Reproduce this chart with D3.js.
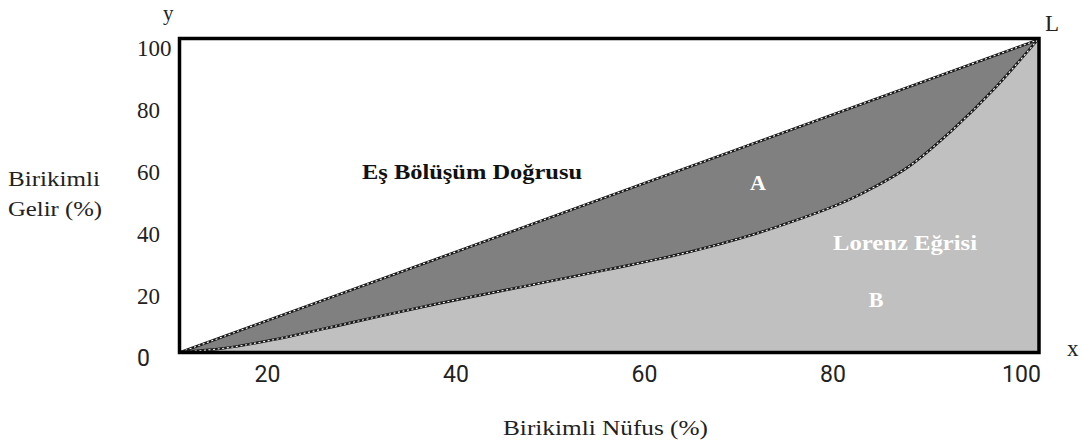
<!DOCTYPE html>
<html>
<head>
<meta charset="utf-8">
<script src="https://cdn.jsdelivr.net/npm/d3@7"></script>
<style>
  html, body { margin: 0; padding: 0; background: #fff; }
  svg { display: block; }
</style>
</head>
<body>
<svg id="chart" width="1081" height="448"></svg>
<script>
// ---- data ----
const popShare    = [0, 5, 10, 20, 30, 40, 50, 60, 70, 80, 85, 90, 95, 100];
const incomeShare = [0, 1.2, 3.5, 9.5, 15.5, 21, 26.5, 32.5, 40.5, 51.5, 59.5, 71, 84.5, 100];
const equalX = [0, 100];
const equalY = [0, 100];
const xTicks = [20, 40, 60, 80, 100];
const yTicks = [0, 20, 40, 60, 80, 100];

const SERIF = '"Liberation Serif", "Times New Roman", serif';
const SANS = 'Roboto, "Liberation Sans", sans-serif';

const svg = d3.select("#chart");

// plot scales
const x = d3.scaleLinear().domain([0, 100]).range([181, 1037.5]);
const y = d3.scaleLinear().domain([0, 100]).range([352, 40]);
// tick label scales (labels sit slightly off the frame in the original)
const xLab = d3.scaleLinear().domain([20, 100]).range([267, 1021]);
const yLab = d3.scaleLinear().domain([0, 100]).range([357, 47]);

const lorenz = popShare.map((p, i) => [p, incomeShare[i]]);
const equality = equalX.map((p, i) => [p, equalY[i]]);

// area under equality line (dark)
const areaEq = d3.area().x(d => x(d[0])).y0(y(0)).y1(d => y(d[1]));
svg.append("path").datum(equality).attr("d", areaEq).attr("fill", "#808080");

// area under Lorenz curve (light)
const areaL = d3.area().x(d => x(d[0])).y0(y(0)).y1(d => y(d[1])).curve(d3.curveMonotoneX);
svg.append("path").datum(lorenz).attr("d", areaL).attr("fill", "#c0c0c0");

// lines: dark stroke + white dashes
const lineEq = d3.line().x(d => x(d[0])).y(d => y(d[1]));
const lineL = d3.line().x(d => x(d[0])).y(d => y(d[1])).curve(d3.curveMonotoneX);
[[equality, lineEq], [lorenz, lineL]].forEach(([data, gen]) => {
  svg.append("path").datum(data).attr("d", gen)
    .attr("fill", "none").attr("stroke", "#1a1a1a").attr("stroke-width", 2.6);
  svg.append("path").datum(data).attr("d", gen)
    .attr("fill", "none").attr("stroke", "#ffffff").attr("stroke-width", 1.1)
    .attr("stroke-dasharray", "2,2.6");
});

// frame
svg.append("rect")
  .attr("x", 179.5).attr("y", 38.5)
  .attr("width", 859.5).attr("height", 314)
  .attr("fill", "none").attr("stroke", "#000").attr("stroke-width", 3.5);

// x tick labels
const gx = svg.append("g").attr("transform", "translate(0,382)")
  .call(d3.axisBottom(xLab).tickValues(xTicks).tickSize(0).tickFormat(d3.format("d")));
gx.select(".domain").remove();
gx.selectAll("text")
  .attr("y", 0).attr("dy", 0)
  .style("font-family", SANS)
  .style("font-size", "23px").attr("fill", "#222");

// y tick labels
const gy = svg.append("g").attr("transform", "translate(137,0)")
  .call(d3.axisLeft(yLab).tickValues(yTicks).tickSize(0).tickFormat(d3.format("d")));
gy.select(".domain").remove();
gy.selectAll("text")
  .attr("x", 0).attr("dy", "0.35em")
  .attr("text-anchor", "start")
  .style("font-family", d => d === 0 ? SANS : SERIF)
  .style("font-size", "23px").attr("fill", "#222");

// axis letters
function label(txt, xx, yy, size, opts = {}) {
  const t = svg.append("text").attr("x", xx).attr("y", yy)
    .style("font-family", SERIF).style("font-size", size + "px")
    .attr("fill", opts.fill || "#222").text(txt);
  if (opts.bold) t.style("font-weight", "bold");
  if (opts.anchor) t.attr("text-anchor", opts.anchor);
  if (opts.len) t.attr("textLength", opts.len).attr("lengthAdjust", "spacingAndGlyphs");
  return t;
}
label("y", 163, 20, 21);
label("L", 1045, 31, 23);
label("x", 1067, 356, 23);

// axis titles
label("Birikimli", 8, 186, 20, { len: 92 });
label("Gelir (%)", 8, 216, 20, { len: 94 });
label("Birikimli Nüfus (%)", 503, 435, 22, { len: 205 });

// in-plot labels
label("Eş Bölüşüm Doğrusu", 362, 179, 21, { bold: true, fill: "#111", len: 220 });
label("A", 758, 190, 22, { bold: true, fill: "#fff", anchor: "middle" });
label("Lorenz Eğrisi", 833, 250, 21, { bold: true, fill: "#fff", len: 144 });
label("B", 876, 307, 22, { bold: true, fill: "#fff", anchor: "middle" });
</script>
</body>
</html>
